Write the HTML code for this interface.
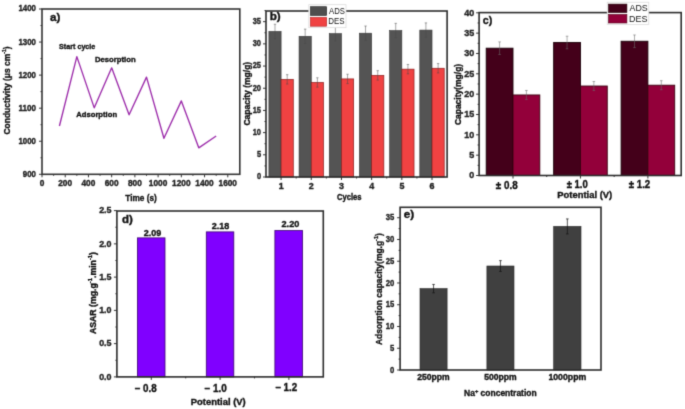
<!DOCTYPE html>
<html><head><meta charset="utf-8"><style>
html,body{margin:0;padding:0;background:#fff;}
svg{display:block;font-family:"Liberation Sans", sans-serif;}
#w{width:685px;height:409px;}
text{stroke:#111;stroke-width:0.35px;paint-order:stroke;}
text[font-weight="normal"]{stroke:none;}
.wrap{will-change:transform;}
</style></head><body>
<div id="w"><svg width="685" height="409" viewBox="0 0 685 409">
<defs><filter id="bl" x="0" y="0" width="685" height="409" filterUnits="userSpaceOnUse" color-interpolation-filters="sRGB"><feConvolveMatrix order="3" kernelMatrix="0.01917 0.10012 0.01917 0.10012 0.52283 0.10012 0.01917 0.10012 0.01917" edgeMode="duplicate" preserveAlpha="true"/></filter></defs>
<rect width="685" height="409" fill="#fff"/>
<g filter="url(#bl)">
<rect width="685" height="409" fill="#fff"/>
<line x1="42.00" y1="174.30" x2="42.00" y2="177.30" stroke="#333" stroke-width="1.0"/>
<line x1="53.61" y1="174.30" x2="53.61" y2="175.80" stroke="#333" stroke-width="1.0"/>
<line x1="65.22" y1="174.30" x2="65.22" y2="177.30" stroke="#333" stroke-width="1.0"/>
<line x1="76.84" y1="174.30" x2="76.84" y2="175.80" stroke="#333" stroke-width="1.0"/>
<line x1="88.45" y1="174.30" x2="88.45" y2="177.30" stroke="#333" stroke-width="1.0"/>
<line x1="100.06" y1="174.30" x2="100.06" y2="175.80" stroke="#333" stroke-width="1.0"/>
<line x1="111.67" y1="174.30" x2="111.67" y2="177.30" stroke="#333" stroke-width="1.0"/>
<line x1="123.28" y1="174.30" x2="123.28" y2="175.80" stroke="#333" stroke-width="1.0"/>
<line x1="134.89" y1="174.30" x2="134.89" y2="177.30" stroke="#333" stroke-width="1.0"/>
<line x1="146.51" y1="174.30" x2="146.51" y2="175.80" stroke="#333" stroke-width="1.0"/>
<line x1="158.12" y1="174.30" x2="158.12" y2="177.30" stroke="#333" stroke-width="1.0"/>
<line x1="169.73" y1="174.30" x2="169.73" y2="175.80" stroke="#333" stroke-width="1.0"/>
<line x1="181.34" y1="174.30" x2="181.34" y2="177.30" stroke="#333" stroke-width="1.0"/>
<line x1="192.95" y1="174.30" x2="192.95" y2="175.80" stroke="#333" stroke-width="1.0"/>
<line x1="204.56" y1="174.30" x2="204.56" y2="177.30" stroke="#333" stroke-width="1.0"/>
<line x1="216.18" y1="174.30" x2="216.18" y2="175.80" stroke="#333" stroke-width="1.0"/>
<line x1="227.79" y1="174.30" x2="227.79" y2="177.30" stroke="#333" stroke-width="1.0"/>
<line x1="39.00" y1="174.30" x2="42.00" y2="174.30" stroke="#333" stroke-width="1.0"/>
<line x1="40.50" y1="157.77" x2="42.00" y2="157.77" stroke="#333" stroke-width="1.0"/>
<line x1="39.00" y1="141.24" x2="42.00" y2="141.24" stroke="#333" stroke-width="1.0"/>
<line x1="40.50" y1="124.71" x2="42.00" y2="124.71" stroke="#333" stroke-width="1.0"/>
<line x1="39.00" y1="108.18" x2="42.00" y2="108.18" stroke="#333" stroke-width="1.0"/>
<line x1="40.50" y1="91.65" x2="42.00" y2="91.65" stroke="#333" stroke-width="1.0"/>
<line x1="39.00" y1="75.12" x2="42.00" y2="75.12" stroke="#333" stroke-width="1.0"/>
<line x1="40.50" y1="58.59" x2="42.00" y2="58.59" stroke="#333" stroke-width="1.0"/>
<line x1="39.00" y1="42.06" x2="42.00" y2="42.06" stroke="#333" stroke-width="1.0"/>
<line x1="40.50" y1="25.53" x2="42.00" y2="25.53" stroke="#333" stroke-width="1.0"/>
<line x1="39.00" y1="9.00" x2="42.00" y2="9.00" stroke="#333" stroke-width="1.0"/>
<rect x="42.00" y="9.00" width="197.80" height="165.30" fill="none" stroke="#333" stroke-width="1.6"/>
<polyline fill="none" stroke="#9c2caa" stroke-width="1.35" stroke-linejoin="round" points="59.42,126.03 76.84,56.61 94.25,107.85 111.67,67.85 129.09,114.79 146.51,77.10 163.92,138.26 181.34,100.91 198.76,147.85 216.18,135.95"/>
<line x1="263.00" y1="177.00" x2="266.00" y2="177.00" stroke="#333" stroke-width="1.0"/>
<line x1="264.50" y1="165.91" x2="266.00" y2="165.91" stroke="#333" stroke-width="1.0"/>
<line x1="263.00" y1="154.81" x2="266.00" y2="154.81" stroke="#333" stroke-width="1.0"/>
<line x1="264.50" y1="143.72" x2="266.00" y2="143.72" stroke="#333" stroke-width="1.0"/>
<line x1="263.00" y1="132.62" x2="266.00" y2="132.62" stroke="#333" stroke-width="1.0"/>
<line x1="264.50" y1="121.53" x2="266.00" y2="121.53" stroke="#333" stroke-width="1.0"/>
<line x1="263.00" y1="110.43" x2="266.00" y2="110.43" stroke="#333" stroke-width="1.0"/>
<line x1="264.50" y1="99.34" x2="266.00" y2="99.34" stroke="#333" stroke-width="1.0"/>
<line x1="263.00" y1="88.24" x2="266.00" y2="88.24" stroke="#333" stroke-width="1.0"/>
<line x1="264.50" y1="77.15" x2="266.00" y2="77.15" stroke="#333" stroke-width="1.0"/>
<line x1="263.00" y1="66.05" x2="266.00" y2="66.05" stroke="#333" stroke-width="1.0"/>
<line x1="264.50" y1="54.96" x2="266.00" y2="54.96" stroke="#333" stroke-width="1.0"/>
<line x1="263.00" y1="43.86" x2="266.00" y2="43.86" stroke="#333" stroke-width="1.0"/>
<line x1="264.50" y1="32.77" x2="266.00" y2="32.77" stroke="#333" stroke-width="1.0"/>
<line x1="263.00" y1="21.67" x2="266.00" y2="21.67" stroke="#333" stroke-width="1.0"/>
<line x1="264.50" y1="10.58" x2="266.00" y2="10.58" stroke="#333" stroke-width="1.0"/>
<line x1="281.09" y1="177.00" x2="281.09" y2="180.00" stroke="#333" stroke-width="1.0"/>
<line x1="296.18" y1="177.00" x2="296.18" y2="178.50" stroke="#333" stroke-width="1.0"/>
<line x1="311.27" y1="177.00" x2="311.27" y2="180.00" stroke="#333" stroke-width="1.0"/>
<line x1="326.37" y1="177.00" x2="326.37" y2="178.50" stroke="#333" stroke-width="1.0"/>
<line x1="341.46" y1="177.00" x2="341.46" y2="180.00" stroke="#333" stroke-width="1.0"/>
<line x1="356.55" y1="177.00" x2="356.55" y2="178.50" stroke="#333" stroke-width="1.0"/>
<line x1="371.64" y1="177.00" x2="371.64" y2="180.00" stroke="#333" stroke-width="1.0"/>
<line x1="386.73" y1="177.00" x2="386.73" y2="178.50" stroke="#333" stroke-width="1.0"/>
<line x1="401.83" y1="177.00" x2="401.83" y2="180.00" stroke="#333" stroke-width="1.0"/>
<line x1="416.92" y1="177.00" x2="416.92" y2="178.50" stroke="#333" stroke-width="1.0"/>
<line x1="432.01" y1="177.00" x2="432.01" y2="180.00" stroke="#333" stroke-width="1.0"/>
<rect x="268.89" y="31.43" width="12.20" height="145.57" fill="#545454" stroke="#333" stroke-width="0.6"/>
<rect x="281.09" y="79.36" width="12.20" height="97.64" fill="#f04242" stroke="#8a1a1a" stroke-width="0.7"/>
<rect x="299.07" y="36.32" width="12.20" height="140.68" fill="#545454" stroke="#333" stroke-width="0.6"/>
<rect x="311.27" y="82.47" width="12.20" height="94.53" fill="#f04242" stroke="#8a1a1a" stroke-width="0.7"/>
<rect x="329.26" y="33.65" width="12.20" height="143.35" fill="#545454" stroke="#333" stroke-width="0.6"/>
<rect x="341.46" y="78.92" width="12.20" height="98.08" fill="#f04242" stroke="#8a1a1a" stroke-width="0.7"/>
<rect x="359.44" y="33.21" width="12.20" height="143.79" fill="#545454" stroke="#333" stroke-width="0.6"/>
<rect x="371.64" y="75.37" width="12.20" height="101.63" fill="#f04242" stroke="#8a1a1a" stroke-width="0.7"/>
<rect x="389.63" y="30.55" width="12.20" height="146.45" fill="#545454" stroke="#333" stroke-width="0.6"/>
<rect x="401.83" y="69.16" width="12.20" height="107.84" fill="#f04242" stroke="#8a1a1a" stroke-width="0.7"/>
<rect x="419.81" y="30.10" width="12.20" height="146.90" fill="#545454" stroke="#333" stroke-width="0.6"/>
<rect x="432.01" y="68.27" width="12.20" height="108.73" fill="#f04242" stroke="#8a1a1a" stroke-width="0.7"/>
<line x1="274.99" y1="24.23" x2="274.99" y2="38.63" stroke="#4a4a4a" stroke-width="0.5"/>
<line x1="273.79" y1="24.23" x2="276.19" y2="24.23" stroke="#4a4a4a" stroke-width="0.5"/>
<line x1="273.79" y1="38.63" x2="276.19" y2="38.63" stroke="#4a4a4a" stroke-width="0.5"/>
<line x1="287.19" y1="74.66" x2="287.19" y2="84.06" stroke="#4a4a4a" stroke-width="0.5"/>
<line x1="285.99" y1="74.66" x2="288.39" y2="74.66" stroke="#4a4a4a" stroke-width="0.5"/>
<line x1="285.99" y1="84.06" x2="288.39" y2="84.06" stroke="#4a4a4a" stroke-width="0.5"/>
<line x1="305.17" y1="29.12" x2="305.17" y2="43.52" stroke="#4a4a4a" stroke-width="0.5"/>
<line x1="303.97" y1="29.12" x2="306.37" y2="29.12" stroke="#4a4a4a" stroke-width="0.5"/>
<line x1="303.97" y1="43.52" x2="306.37" y2="43.52" stroke="#4a4a4a" stroke-width="0.5"/>
<line x1="317.38" y1="77.77" x2="317.38" y2="87.17" stroke="#4a4a4a" stroke-width="0.5"/>
<line x1="316.18" y1="77.77" x2="318.57" y2="77.77" stroke="#4a4a4a" stroke-width="0.5"/>
<line x1="316.18" y1="87.17" x2="318.57" y2="87.17" stroke="#4a4a4a" stroke-width="0.5"/>
<line x1="335.36" y1="26.45" x2="335.36" y2="40.85" stroke="#4a4a4a" stroke-width="0.5"/>
<line x1="334.16" y1="26.45" x2="336.56" y2="26.45" stroke="#4a4a4a" stroke-width="0.5"/>
<line x1="334.16" y1="40.85" x2="336.56" y2="40.85" stroke="#4a4a4a" stroke-width="0.5"/>
<line x1="347.56" y1="74.22" x2="347.56" y2="83.62" stroke="#4a4a4a" stroke-width="0.5"/>
<line x1="346.36" y1="74.22" x2="348.76" y2="74.22" stroke="#4a4a4a" stroke-width="0.5"/>
<line x1="346.36" y1="83.62" x2="348.76" y2="83.62" stroke="#4a4a4a" stroke-width="0.5"/>
<line x1="365.54" y1="26.01" x2="365.54" y2="40.41" stroke="#4a4a4a" stroke-width="0.5"/>
<line x1="364.34" y1="26.01" x2="366.74" y2="26.01" stroke="#4a4a4a" stroke-width="0.5"/>
<line x1="364.34" y1="40.41" x2="366.74" y2="40.41" stroke="#4a4a4a" stroke-width="0.5"/>
<line x1="377.74" y1="70.67" x2="377.74" y2="80.07" stroke="#4a4a4a" stroke-width="0.5"/>
<line x1="376.54" y1="70.67" x2="378.94" y2="70.67" stroke="#4a4a4a" stroke-width="0.5"/>
<line x1="376.54" y1="80.07" x2="378.94" y2="80.07" stroke="#4a4a4a" stroke-width="0.5"/>
<line x1="395.73" y1="23.35" x2="395.73" y2="37.75" stroke="#4a4a4a" stroke-width="0.5"/>
<line x1="394.53" y1="23.35" x2="396.93" y2="23.35" stroke="#4a4a4a" stroke-width="0.5"/>
<line x1="394.53" y1="37.75" x2="396.93" y2="37.75" stroke="#4a4a4a" stroke-width="0.5"/>
<line x1="407.93" y1="64.46" x2="407.93" y2="73.86" stroke="#4a4a4a" stroke-width="0.5"/>
<line x1="406.73" y1="64.46" x2="409.13" y2="64.46" stroke="#4a4a4a" stroke-width="0.5"/>
<line x1="406.73" y1="73.86" x2="409.13" y2="73.86" stroke="#4a4a4a" stroke-width="0.5"/>
<line x1="425.91" y1="22.90" x2="425.91" y2="37.30" stroke="#4a4a4a" stroke-width="0.5"/>
<line x1="424.71" y1="22.90" x2="427.11" y2="22.90" stroke="#4a4a4a" stroke-width="0.5"/>
<line x1="424.71" y1="37.30" x2="427.11" y2="37.30" stroke="#4a4a4a" stroke-width="0.5"/>
<line x1="438.11" y1="63.57" x2="438.11" y2="72.97" stroke="#4a4a4a" stroke-width="0.5"/>
<line x1="436.91" y1="63.57" x2="439.31" y2="63.57" stroke="#4a4a4a" stroke-width="0.5"/>
<line x1="436.91" y1="72.97" x2="439.31" y2="72.97" stroke="#4a4a4a" stroke-width="0.5"/>
<rect x="266.00" y="11.00" width="181.10" height="166.00" fill="none" stroke="#2c2c2c" stroke-width="1.6"/>
<rect x="308.80" y="4.70" width="37.20" height="23.00" fill="#fff" stroke="#d8d8d8" stroke-width="0.7"/>
<rect x="310.40" y="6.70" width="16.30" height="8.80" fill="#4e4e4e" stroke="#222" stroke-width="0.6"/>
<rect x="310.40" y="17.40" width="16.30" height="8.80" fill="#f04242" stroke="#b02020" stroke-width="0.6"/>
<line x1="476.10" y1="175.50" x2="479.10" y2="175.50" stroke="#333" stroke-width="1.0"/>
<line x1="477.60" y1="165.33" x2="479.10" y2="165.33" stroke="#333" stroke-width="1.0"/>
<line x1="476.10" y1="155.16" x2="479.10" y2="155.16" stroke="#333" stroke-width="1.0"/>
<line x1="477.60" y1="144.99" x2="479.10" y2="144.99" stroke="#333" stroke-width="1.0"/>
<line x1="476.10" y1="134.82" x2="479.10" y2="134.82" stroke="#333" stroke-width="1.0"/>
<line x1="477.60" y1="124.66" x2="479.10" y2="124.66" stroke="#333" stroke-width="1.0"/>
<line x1="476.10" y1="114.49" x2="479.10" y2="114.49" stroke="#333" stroke-width="1.0"/>
<line x1="477.60" y1="104.32" x2="479.10" y2="104.32" stroke="#333" stroke-width="1.0"/>
<line x1="476.10" y1="94.15" x2="479.10" y2="94.15" stroke="#333" stroke-width="1.0"/>
<line x1="477.60" y1="83.98" x2="479.10" y2="83.98" stroke="#333" stroke-width="1.0"/>
<line x1="476.10" y1="73.81" x2="479.10" y2="73.81" stroke="#333" stroke-width="1.0"/>
<line x1="477.60" y1="63.64" x2="479.10" y2="63.64" stroke="#333" stroke-width="1.0"/>
<line x1="476.10" y1="53.47" x2="479.10" y2="53.47" stroke="#333" stroke-width="1.0"/>
<line x1="477.60" y1="43.31" x2="479.10" y2="43.31" stroke="#333" stroke-width="1.0"/>
<line x1="476.10" y1="33.14" x2="479.10" y2="33.14" stroke="#333" stroke-width="1.0"/>
<line x1="477.60" y1="22.97" x2="479.10" y2="22.97" stroke="#333" stroke-width="1.0"/>
<line x1="476.10" y1="12.80" x2="479.10" y2="12.80" stroke="#333" stroke-width="1.0"/>
<line x1="513.00" y1="175.50" x2="513.00" y2="178.50" stroke="#333" stroke-width="1.0"/>
<line x1="546.73" y1="175.50" x2="546.73" y2="177.00" stroke="#333" stroke-width="1.0"/>
<line x1="580.45" y1="175.50" x2="580.45" y2="178.50" stroke="#333" stroke-width="1.0"/>
<line x1="614.17" y1="175.50" x2="614.17" y2="177.00" stroke="#333" stroke-width="1.0"/>
<line x1="647.90" y1="175.50" x2="647.90" y2="178.50" stroke="#333" stroke-width="1.0"/>
<rect x="486.20" y="48.19" width="26.80" height="127.31" fill="#44001a" stroke="#1a0008" stroke-width="0.9"/>
<rect x="513.00" y="94.96" width="26.80" height="80.54" fill="#93003a" stroke="#3a0010" stroke-width="0.9"/>
<rect x="553.65" y="42.49" width="26.80" height="133.01" fill="#44001a" stroke="#1a0008" stroke-width="0.9"/>
<rect x="580.45" y="86.02" width="26.80" height="89.48" fill="#93003a" stroke="#3a0010" stroke-width="0.9"/>
<rect x="621.10" y="41.27" width="26.80" height="134.23" fill="#44001a" stroke="#1a0008" stroke-width="0.9"/>
<rect x="647.90" y="85.20" width="26.80" height="90.30" fill="#93003a" stroke="#3a0010" stroke-width="0.9"/>
<line x1="499.60" y1="41.89" x2="499.60" y2="54.49" stroke="#6a6a6a" stroke-width="0.55"/>
<line x1="498.30" y1="41.89" x2="500.90" y2="41.89" stroke="#6a6a6a" stroke-width="0.55"/>
<line x1="498.30" y1="54.49" x2="500.90" y2="54.49" stroke="#6a6a6a" stroke-width="0.55"/>
<line x1="526.40" y1="90.46" x2="526.40" y2="99.46" stroke="#6a6a6a" stroke-width="0.55"/>
<line x1="525.10" y1="90.46" x2="527.70" y2="90.46" stroke="#6a6a6a" stroke-width="0.55"/>
<line x1="525.10" y1="99.46" x2="527.70" y2="99.46" stroke="#6a6a6a" stroke-width="0.55"/>
<line x1="567.05" y1="36.19" x2="567.05" y2="48.79" stroke="#6a6a6a" stroke-width="0.55"/>
<line x1="565.75" y1="36.19" x2="568.35" y2="36.19" stroke="#6a6a6a" stroke-width="0.55"/>
<line x1="565.75" y1="48.79" x2="568.35" y2="48.79" stroke="#6a6a6a" stroke-width="0.55"/>
<line x1="593.85" y1="81.52" x2="593.85" y2="90.52" stroke="#6a6a6a" stroke-width="0.55"/>
<line x1="592.55" y1="81.52" x2="595.15" y2="81.52" stroke="#6a6a6a" stroke-width="0.55"/>
<line x1="592.55" y1="90.52" x2="595.15" y2="90.52" stroke="#6a6a6a" stroke-width="0.55"/>
<line x1="634.50" y1="34.97" x2="634.50" y2="47.57" stroke="#6a6a6a" stroke-width="0.55"/>
<line x1="633.20" y1="34.97" x2="635.80" y2="34.97" stroke="#6a6a6a" stroke-width="0.55"/>
<line x1="633.20" y1="47.57" x2="635.80" y2="47.57" stroke="#6a6a6a" stroke-width="0.55"/>
<line x1="661.30" y1="80.70" x2="661.30" y2="89.70" stroke="#6a6a6a" stroke-width="0.55"/>
<line x1="660.00" y1="80.70" x2="662.60" y2="80.70" stroke="#6a6a6a" stroke-width="0.55"/>
<line x1="660.00" y1="89.70" x2="662.60" y2="89.70" stroke="#6a6a6a" stroke-width="0.55"/>
<rect x="479.10" y="12.60" width="202.10" height="162.90" fill="none" stroke="#2c2c2c" stroke-width="1.6"/>
<rect x="607.20" y="2.20" width="41.60" height="22.30" fill="#fff" stroke="#d8d8d8" stroke-width="0.7"/>
<rect x="608.50" y="4.10" width="18.40" height="8.50" fill="#44001a" stroke="#220008" stroke-width="0.6"/>
<rect x="608.50" y="14.40" width="18.40" height="8.60" fill="#93003a" stroke="#500018" stroke-width="0.6"/>
<line x1="113.90" y1="376.90" x2="116.90" y2="376.90" stroke="#333" stroke-width="1.0"/>
<line x1="115.40" y1="360.27" x2="116.90" y2="360.27" stroke="#333" stroke-width="1.0"/>
<line x1="113.90" y1="343.64" x2="116.90" y2="343.64" stroke="#333" stroke-width="1.0"/>
<line x1="115.40" y1="327.01" x2="116.90" y2="327.01" stroke="#333" stroke-width="1.0"/>
<line x1="113.90" y1="310.38" x2="116.90" y2="310.38" stroke="#333" stroke-width="1.0"/>
<line x1="115.40" y1="293.75" x2="116.90" y2="293.75" stroke="#333" stroke-width="1.0"/>
<line x1="113.90" y1="277.12" x2="116.90" y2="277.12" stroke="#333" stroke-width="1.0"/>
<line x1="115.40" y1="260.49" x2="116.90" y2="260.49" stroke="#333" stroke-width="1.0"/>
<line x1="113.90" y1="243.86" x2="116.90" y2="243.86" stroke="#333" stroke-width="1.0"/>
<line x1="115.40" y1="227.23" x2="116.90" y2="227.23" stroke="#333" stroke-width="1.0"/>
<line x1="113.90" y1="210.60" x2="116.90" y2="210.60" stroke="#333" stroke-width="1.0"/>
<line x1="151.30" y1="376.90" x2="151.30" y2="379.90" stroke="#333" stroke-width="1.0"/>
<line x1="185.70" y1="376.90" x2="185.70" y2="378.40" stroke="#333" stroke-width="1.0"/>
<line x1="220.10" y1="376.90" x2="220.10" y2="379.90" stroke="#333" stroke-width="1.0"/>
<line x1="254.50" y1="376.90" x2="254.50" y2="378.40" stroke="#333" stroke-width="1.0"/>
<line x1="288.90" y1="376.90" x2="288.90" y2="379.90" stroke="#333" stroke-width="1.0"/>
<rect x="137.40" y="237.87" width="27.60" height="139.03" fill="#8000ff" stroke="#3a0070" stroke-width="0.8"/>
<rect x="206.30" y="231.89" width="27.50" height="145.01" fill="#8000ff" stroke="#3a0070" stroke-width="0.8"/>
<rect x="274.90" y="230.56" width="27.60" height="146.34" fill="#8000ff" stroke="#3a0070" stroke-width="0.8"/>
<rect x="116.90" y="211.00" width="206.40" height="165.90" fill="none" stroke="#2c2c2c" stroke-width="1.6"/>
<line x1="397.10" y1="370.00" x2="400.10" y2="370.00" stroke="#333" stroke-width="1.0"/>
<line x1="398.60" y1="359.12" x2="400.10" y2="359.12" stroke="#333" stroke-width="1.0"/>
<line x1="397.10" y1="348.25" x2="400.10" y2="348.25" stroke="#333" stroke-width="1.0"/>
<line x1="398.60" y1="337.37" x2="400.10" y2="337.37" stroke="#333" stroke-width="1.0"/>
<line x1="397.10" y1="326.49" x2="400.10" y2="326.49" stroke="#333" stroke-width="1.0"/>
<line x1="398.60" y1="315.61" x2="400.10" y2="315.61" stroke="#333" stroke-width="1.0"/>
<line x1="397.10" y1="304.74" x2="400.10" y2="304.74" stroke="#333" stroke-width="1.0"/>
<line x1="398.60" y1="293.86" x2="400.10" y2="293.86" stroke="#333" stroke-width="1.0"/>
<line x1="397.10" y1="282.98" x2="400.10" y2="282.98" stroke="#333" stroke-width="1.0"/>
<line x1="398.60" y1="272.10" x2="400.10" y2="272.10" stroke="#333" stroke-width="1.0"/>
<line x1="397.10" y1="261.23" x2="400.10" y2="261.23" stroke="#333" stroke-width="1.0"/>
<line x1="398.60" y1="250.35" x2="400.10" y2="250.35" stroke="#333" stroke-width="1.0"/>
<line x1="397.10" y1="239.47" x2="400.10" y2="239.47" stroke="#333" stroke-width="1.0"/>
<line x1="398.60" y1="228.59" x2="400.10" y2="228.59" stroke="#333" stroke-width="1.0"/>
<line x1="397.10" y1="217.72" x2="400.10" y2="217.72" stroke="#333" stroke-width="1.0"/>
<rect x="420.00" y="288.64" width="27.10" height="81.36" fill="#404040" stroke="#222" stroke-width="0.6"/>
<line x1="433.55" y1="284.44" x2="433.55" y2="292.84" stroke="#111" stroke-width="0.7"/>
<line x1="432.25" y1="284.44" x2="434.85" y2="284.44" stroke="#111" stroke-width="0.7"/>
<line x1="432.25" y1="292.84" x2="434.85" y2="292.84" stroke="#111" stroke-width="0.7"/>
<rect x="486.90" y="266.01" width="27.10" height="103.99" fill="#404040" stroke="#222" stroke-width="0.6"/>
<line x1="500.45" y1="260.61" x2="500.45" y2="271.41" stroke="#111" stroke-width="0.7"/>
<line x1="499.15" y1="260.61" x2="501.75" y2="260.61" stroke="#111" stroke-width="0.7"/>
<line x1="499.15" y1="271.41" x2="501.75" y2="271.41" stroke="#111" stroke-width="0.7"/>
<rect x="553.70" y="226.42" width="27.30" height="143.58" fill="#404040" stroke="#222" stroke-width="0.6"/>
<line x1="567.35" y1="218.92" x2="567.35" y2="233.92" stroke="#111" stroke-width="0.7"/>
<line x1="566.05" y1="218.92" x2="568.65" y2="218.92" stroke="#111" stroke-width="0.7"/>
<line x1="566.05" y1="233.92" x2="568.65" y2="233.92" stroke="#111" stroke-width="0.7"/>
<rect x="400.10" y="207.30" width="200.90" height="162.70" fill="none" stroke="#2c2c2c" stroke-width="1.6"/>
<text x="36.000" y="44.535" font-size="8.630" font-weight="bold" text-anchor="end" fill="#222" textLength="17.544" lengthAdjust="spacingAndGlyphs">1300</text>
<text x="65.174" y="185.950" font-size="8.348" font-weight="bold" text-anchor="middle" fill="#222" textLength="13.831" lengthAdjust="spacingAndGlyphs">200</text>
<text x="50.000" y="21.450" font-size="10.895" font-weight="bold" text-anchor="start" fill="#111" textLength="10.332" lengthAdjust="spacingAndGlyphs">a)</text>
<text x="59.050" y="49.150" font-size="7.700" font-weight="bold" text-anchor="start" fill="#111" textLength="36.299" lengthAdjust="spacingAndGlyphs">Start cycle</text>
<text x="94.975" y="62.350" font-size="7.500" font-weight="bold" text-anchor="start" fill="#111" textLength="40.624" lengthAdjust="spacingAndGlyphs">Desorption</text>
<text x="76.275" y="117.000" font-size="7.700" font-weight="bold" text-anchor="start" fill="#111" textLength="40.797" lengthAdjust="spacingAndGlyphs">Adsorption</text>
<text x="125.275" y="200.650" font-size="9.412" font-weight="bold" text-anchor="start" fill="#111" textLength="31.557" lengthAdjust="spacingAndGlyphs">Time (s)</text>
<text x="9.600" y="134.525" font-size="9.196" font-weight="bold" text-anchor="start" fill="#111" textLength="88.081" lengthAdjust="spacingAndGlyphs" transform="rotate(-90 9.600 134.525)">Conductivity (&#956;s cm<tspan font-size="5.5" dy="-3.5">-1</tspan><tspan dy="3.5">)</tspan></text>
<text x="261.025" y="23.995" font-size="8.165" font-weight="bold" text-anchor="end" fill="#222" textLength="8.298" lengthAdjust="spacingAndGlyphs">35</text>
<text x="341.508" y="189.225" font-size="8.803" font-weight="bold" text-anchor="middle" fill="#222" textLength="4.958" lengthAdjust="spacingAndGlyphs">3</text>
<text x="269.650" y="19.800" font-size="10.093" font-weight="bold" text-anchor="start" fill="#111" textLength="11.012" lengthAdjust="spacingAndGlyphs">b)</text>
<text x="336.950" y="199.725" font-size="8.257" font-weight="bold" text-anchor="start" fill="#111" textLength="24.511" lengthAdjust="spacingAndGlyphs">Cycles</text>
<text x="250.200" y="125.600" font-size="8.500" font-weight="bold" text-anchor="start" fill="#111" textLength="63.817" lengthAdjust="spacingAndGlyphs" transform="rotate(-90 250.200 125.600)">Capacity (mg/g)</text>
<text x="329.000" y="13.525" font-size="8.177" font-weight="normal" text-anchor="start" fill="#111" textLength="15.879" lengthAdjust="spacingAndGlyphs">ADS</text>
<text x="328.350" y="23.775" font-size="8.177" font-weight="normal" text-anchor="start" fill="#111" textLength="16.306" lengthAdjust="spacingAndGlyphs">DES</text>
<text x="474.200" y="15.525" font-size="8.718" font-weight="bold" text-anchor="end" fill="#222" textLength="9.995" lengthAdjust="spacingAndGlyphs">40</text>
<text x="495.775" y="188.650" font-size="10.300" font-weight="bold" text-anchor="start" fill="#111" textLength="21.858" lengthAdjust="spacingAndGlyphs">&#177; 0.8</text>
<text x="566.650" y="188.150" font-size="10.300" font-weight="bold" text-anchor="start" fill="#111" textLength="21.085" lengthAdjust="spacingAndGlyphs">&#177; 1.0</text>
<text x="628.725" y="187.900" font-size="10.300" font-weight="bold" text-anchor="start" fill="#111" textLength="21.495" lengthAdjust="spacingAndGlyphs">&#177; 1.2</text>
<text x="557.350" y="197.500" font-size="9.122" font-weight="bold" text-anchor="start" fill="#111" textLength="54.896" lengthAdjust="spacingAndGlyphs">Potential (V)</text>
<text x="482.825" y="24.450" font-size="10.449" font-weight="bold" text-anchor="start" fill="#111" textLength="9.512" lengthAdjust="spacingAndGlyphs">c)</text>
<text x="460.950" y="125.100" font-size="8.400" font-weight="bold" text-anchor="start" fill="#111" textLength="61.259" lengthAdjust="spacingAndGlyphs" transform="rotate(-90 460.950 125.100)">Capacity(mg/g)</text>
<text x="629.500" y="11.275" font-size="8.177" font-weight="normal" text-anchor="start" fill="#111" textLength="18.188" lengthAdjust="spacingAndGlyphs">ADS</text>
<text x="629.100" y="21.750" font-size="8.600" font-weight="normal" text-anchor="start" fill="#111" textLength="18.411" lengthAdjust="spacingAndGlyphs">DES</text>
<text x="111.500" y="313.105" font-size="8.931" font-weight="bold" text-anchor="end" fill="#222" textLength="12.366" lengthAdjust="spacingAndGlyphs">1.0</text>
<text x="143.750" y="235.525" font-size="8.893" font-weight="bold" text-anchor="start" fill="#111" textLength="17.523" lengthAdjust="spacingAndGlyphs">2.09</text>
<text x="211.775" y="229.025" font-size="8.893" font-weight="bold" text-anchor="start" fill="#111" textLength="17.582" lengthAdjust="spacingAndGlyphs">2.18</text>
<text x="281.525" y="226.600" font-size="9.404" font-weight="bold" text-anchor="start" fill="#111" textLength="17.837" lengthAdjust="spacingAndGlyphs">2.20</text>
<text x="134.850" y="392.250" font-size="10.200" font-weight="bold" text-anchor="start" fill="#111" textLength="21.852" lengthAdjust="spacingAndGlyphs">&#8211; 0.8</text>
<text x="204.600" y="392.025" font-size="10.200" font-weight="bold" text-anchor="start" fill="#111" textLength="22.106" lengthAdjust="spacingAndGlyphs">&#8211; 1.0</text>
<text x="275.450" y="391.000" font-size="10.200" font-weight="bold" text-anchor="start" fill="#111" textLength="21.800" lengthAdjust="spacingAndGlyphs">&#8211; 1.2</text>
<text x="190.750" y="404.525" font-size="8.910" font-weight="bold" text-anchor="start" fill="#111" textLength="54.948" lengthAdjust="spacingAndGlyphs">Potential (V)</text>
<text x="121.900" y="223.375" font-size="10.142" font-weight="bold" text-anchor="start" fill="#111" textLength="10.807" lengthAdjust="spacingAndGlyphs">d)</text>
<text x="96.075" y="334.025" font-size="8.300" font-weight="bold" text-anchor="start" fill="#111" textLength="81.992" lengthAdjust="spacingAndGlyphs" transform="rotate(-90 96.075 334.025)">ASAR (mg.g<tspan font-size="5.5" dy="-3.6">-1</tspan><tspan dy="3.6">.min</tspan><tspan font-size="5.5" dy="-3.6">-1</tspan><tspan dy="3.6">)</tspan></text>
<text x="394.225" y="220.440" font-size="9.107" font-weight="bold" text-anchor="end" fill="#222" textLength="8.555" lengthAdjust="spacingAndGlyphs">35</text>
<text x="417.325" y="379.800" font-size="8.380" font-weight="bold" text-anchor="start" fill="#111" textLength="32.383" lengthAdjust="spacingAndGlyphs">250ppm</text>
<text x="464.050" y="395.700" font-size="8.900" font-weight="bold" text-anchor="start" fill="#111" textLength="72.585" lengthAdjust="spacingAndGlyphs">Na<tspan font-size="6.0" dy="-2.6">+</tspan><tspan dy="2.6"> concentration</tspan></text>
<text x="403.625" y="217.500" font-size="10.449" font-weight="bold" text-anchor="start" fill="#111" textLength="10.484" lengthAdjust="spacingAndGlyphs">e)</text>
<text x="382.450" y="345.050" font-size="9.200" font-weight="bold" text-anchor="start" fill="#111" textLength="111.825" lengthAdjust="spacingAndGlyphs" transform="rotate(-90 382.450 345.050)">Adsorption capacity(mg.g<tspan font-size="6" dy="-4.0">-1</tspan><tspan dy="4.0">)</tspan></text>
<text x="36.000" y="176.775" font-size="8.630" font-weight="bold" text-anchor="end" fill="#222" textLength="13.158" lengthAdjust="spacingAndGlyphs">900</text>
<text x="36.000" y="143.715" font-size="8.630" font-weight="bold" text-anchor="end" fill="#222" textLength="17.544" lengthAdjust="spacingAndGlyphs">1000</text>
<text x="36.000" y="110.655" font-size="8.630" font-weight="bold" text-anchor="end" fill="#222" textLength="17.544" lengthAdjust="spacingAndGlyphs">1100</text>
<text x="36.000" y="77.595" font-size="8.630" font-weight="bold" text-anchor="end" fill="#222" textLength="17.544" lengthAdjust="spacingAndGlyphs">1200</text>
<text x="36.000" y="11.475" font-size="8.630" font-weight="bold" text-anchor="end" fill="#222" textLength="17.544" lengthAdjust="spacingAndGlyphs">1400</text>
<text x="41.950" y="185.950" font-size="8.348" font-weight="bold" text-anchor="middle" fill="#222" textLength="4.610" lengthAdjust="spacingAndGlyphs">0</text>
<text x="88.397" y="185.950" font-size="8.348" font-weight="bold" text-anchor="middle" fill="#222" textLength="13.831" lengthAdjust="spacingAndGlyphs">400</text>
<text x="111.621" y="185.950" font-size="8.348" font-weight="bold" text-anchor="middle" fill="#222" textLength="13.831" lengthAdjust="spacingAndGlyphs">600</text>
<text x="134.844" y="185.950" font-size="8.348" font-weight="bold" text-anchor="middle" fill="#222" textLength="13.831" lengthAdjust="spacingAndGlyphs">800</text>
<text x="158.068" y="185.950" font-size="8.348" font-weight="bold" text-anchor="middle" fill="#222" textLength="18.442" lengthAdjust="spacingAndGlyphs">1000</text>
<text x="181.291" y="185.950" font-size="8.348" font-weight="bold" text-anchor="middle" fill="#222" textLength="18.442" lengthAdjust="spacingAndGlyphs">1200</text>
<text x="204.515" y="185.950" font-size="8.348" font-weight="bold" text-anchor="middle" fill="#222" textLength="18.442" lengthAdjust="spacingAndGlyphs">1400</text>
<text x="227.738" y="185.950" font-size="8.348" font-weight="bold" text-anchor="middle" fill="#222" textLength="18.442" lengthAdjust="spacingAndGlyphs">1600</text>
<text x="261.025" y="179.325" font-size="8.165" font-weight="bold" text-anchor="end" fill="#222" textLength="4.149" lengthAdjust="spacingAndGlyphs">0</text>
<text x="261.025" y="157.135" font-size="8.165" font-weight="bold" text-anchor="end" fill="#222" textLength="4.149" lengthAdjust="spacingAndGlyphs">5</text>
<text x="261.025" y="134.945" font-size="8.165" font-weight="bold" text-anchor="end" fill="#222" textLength="8.298" lengthAdjust="spacingAndGlyphs">10</text>
<text x="261.025" y="112.755" font-size="8.165" font-weight="bold" text-anchor="end" fill="#222" textLength="8.298" lengthAdjust="spacingAndGlyphs">15</text>
<text x="261.025" y="90.565" font-size="8.165" font-weight="bold" text-anchor="end" fill="#222" textLength="8.298" lengthAdjust="spacingAndGlyphs">20</text>
<text x="261.025" y="68.375" font-size="8.165" font-weight="bold" text-anchor="end" fill="#222" textLength="8.298" lengthAdjust="spacingAndGlyphs">25</text>
<text x="261.025" y="46.185" font-size="8.165" font-weight="bold" text-anchor="end" fill="#222" textLength="8.298" lengthAdjust="spacingAndGlyphs">30</text>
<text x="281.142" y="189.225" font-size="8.803" font-weight="bold" text-anchor="middle" fill="#222" textLength="4.958" lengthAdjust="spacingAndGlyphs">1</text>
<text x="311.325" y="189.225" font-size="8.803" font-weight="bold" text-anchor="middle" fill="#222" textLength="4.958" lengthAdjust="spacingAndGlyphs">2</text>
<text x="371.692" y="189.225" font-size="8.803" font-weight="bold" text-anchor="middle" fill="#222" textLength="4.958" lengthAdjust="spacingAndGlyphs">4</text>
<text x="401.875" y="189.225" font-size="8.803" font-weight="bold" text-anchor="middle" fill="#222" textLength="4.958" lengthAdjust="spacingAndGlyphs">5</text>
<text x="432.058" y="189.225" font-size="8.803" font-weight="bold" text-anchor="middle" fill="#222" textLength="4.958" lengthAdjust="spacingAndGlyphs">6</text>
<text x="474.200" y="178.225" font-size="8.718" font-weight="bold" text-anchor="end" fill="#222" textLength="4.997" lengthAdjust="spacingAndGlyphs">0</text>
<text x="474.200" y="157.887" font-size="8.718" font-weight="bold" text-anchor="end" fill="#222" textLength="4.997" lengthAdjust="spacingAndGlyphs">5</text>
<text x="474.200" y="137.550" font-size="8.718" font-weight="bold" text-anchor="end" fill="#222" textLength="9.995" lengthAdjust="spacingAndGlyphs">10</text>
<text x="474.200" y="117.212" font-size="8.718" font-weight="bold" text-anchor="end" fill="#222" textLength="9.995" lengthAdjust="spacingAndGlyphs">15</text>
<text x="474.200" y="96.875" font-size="8.718" font-weight="bold" text-anchor="end" fill="#222" textLength="9.995" lengthAdjust="spacingAndGlyphs">20</text>
<text x="474.200" y="76.538" font-size="8.718" font-weight="bold" text-anchor="end" fill="#222" textLength="9.995" lengthAdjust="spacingAndGlyphs">25</text>
<text x="474.200" y="56.200" font-size="8.718" font-weight="bold" text-anchor="end" fill="#222" textLength="9.995" lengthAdjust="spacingAndGlyphs">30</text>
<text x="474.200" y="35.862" font-size="8.718" font-weight="bold" text-anchor="end" fill="#222" textLength="9.995" lengthAdjust="spacingAndGlyphs">35</text>
<text x="111.500" y="379.625" font-size="8.931" font-weight="bold" text-anchor="end" fill="#222" textLength="12.366" lengthAdjust="spacingAndGlyphs">0.0</text>
<text x="111.500" y="346.365" font-size="8.931" font-weight="bold" text-anchor="end" fill="#222" textLength="12.366" lengthAdjust="spacingAndGlyphs">0.5</text>
<text x="111.500" y="279.845" font-size="8.931" font-weight="bold" text-anchor="end" fill="#222" textLength="12.366" lengthAdjust="spacingAndGlyphs">1.5</text>
<text x="111.500" y="246.585" font-size="8.931" font-weight="bold" text-anchor="end" fill="#222" textLength="12.366" lengthAdjust="spacingAndGlyphs">2.0</text>
<text x="111.500" y="213.325" font-size="8.931" font-weight="bold" text-anchor="end" fill="#222" textLength="12.366" lengthAdjust="spacingAndGlyphs">2.5</text>
<text x="394.225" y="372.725" font-size="9.107" font-weight="bold" text-anchor="end" fill="#222" textLength="4.278" lengthAdjust="spacingAndGlyphs">0</text>
<text x="394.225" y="350.970" font-size="9.107" font-weight="bold" text-anchor="end" fill="#222" textLength="4.278" lengthAdjust="spacingAndGlyphs">5</text>
<text x="394.225" y="329.215" font-size="9.107" font-weight="bold" text-anchor="end" fill="#222" textLength="8.555" lengthAdjust="spacingAndGlyphs">10</text>
<text x="394.225" y="307.460" font-size="9.107" font-weight="bold" text-anchor="end" fill="#222" textLength="8.555" lengthAdjust="spacingAndGlyphs">15</text>
<text x="394.225" y="285.705" font-size="9.107" font-weight="bold" text-anchor="end" fill="#222" textLength="8.555" lengthAdjust="spacingAndGlyphs">20</text>
<text x="394.225" y="263.950" font-size="9.107" font-weight="bold" text-anchor="end" fill="#222" textLength="8.555" lengthAdjust="spacingAndGlyphs">25</text>
<text x="394.225" y="242.195" font-size="9.107" font-weight="bold" text-anchor="end" fill="#222" textLength="8.555" lengthAdjust="spacingAndGlyphs">30</text>
<text x="484.225" y="379.800" font-size="8.380" font-weight="bold" text-anchor="start" fill="#111" textLength="32.383" lengthAdjust="spacingAndGlyphs">500ppm</text>
<text x="548.426" y="379.800" font-size="8.380" font-weight="bold" text-anchor="start" fill="#111" textLength="37.780" lengthAdjust="spacingAndGlyphs">1000ppm</text>
</g>
</svg></div>
</body></html>
